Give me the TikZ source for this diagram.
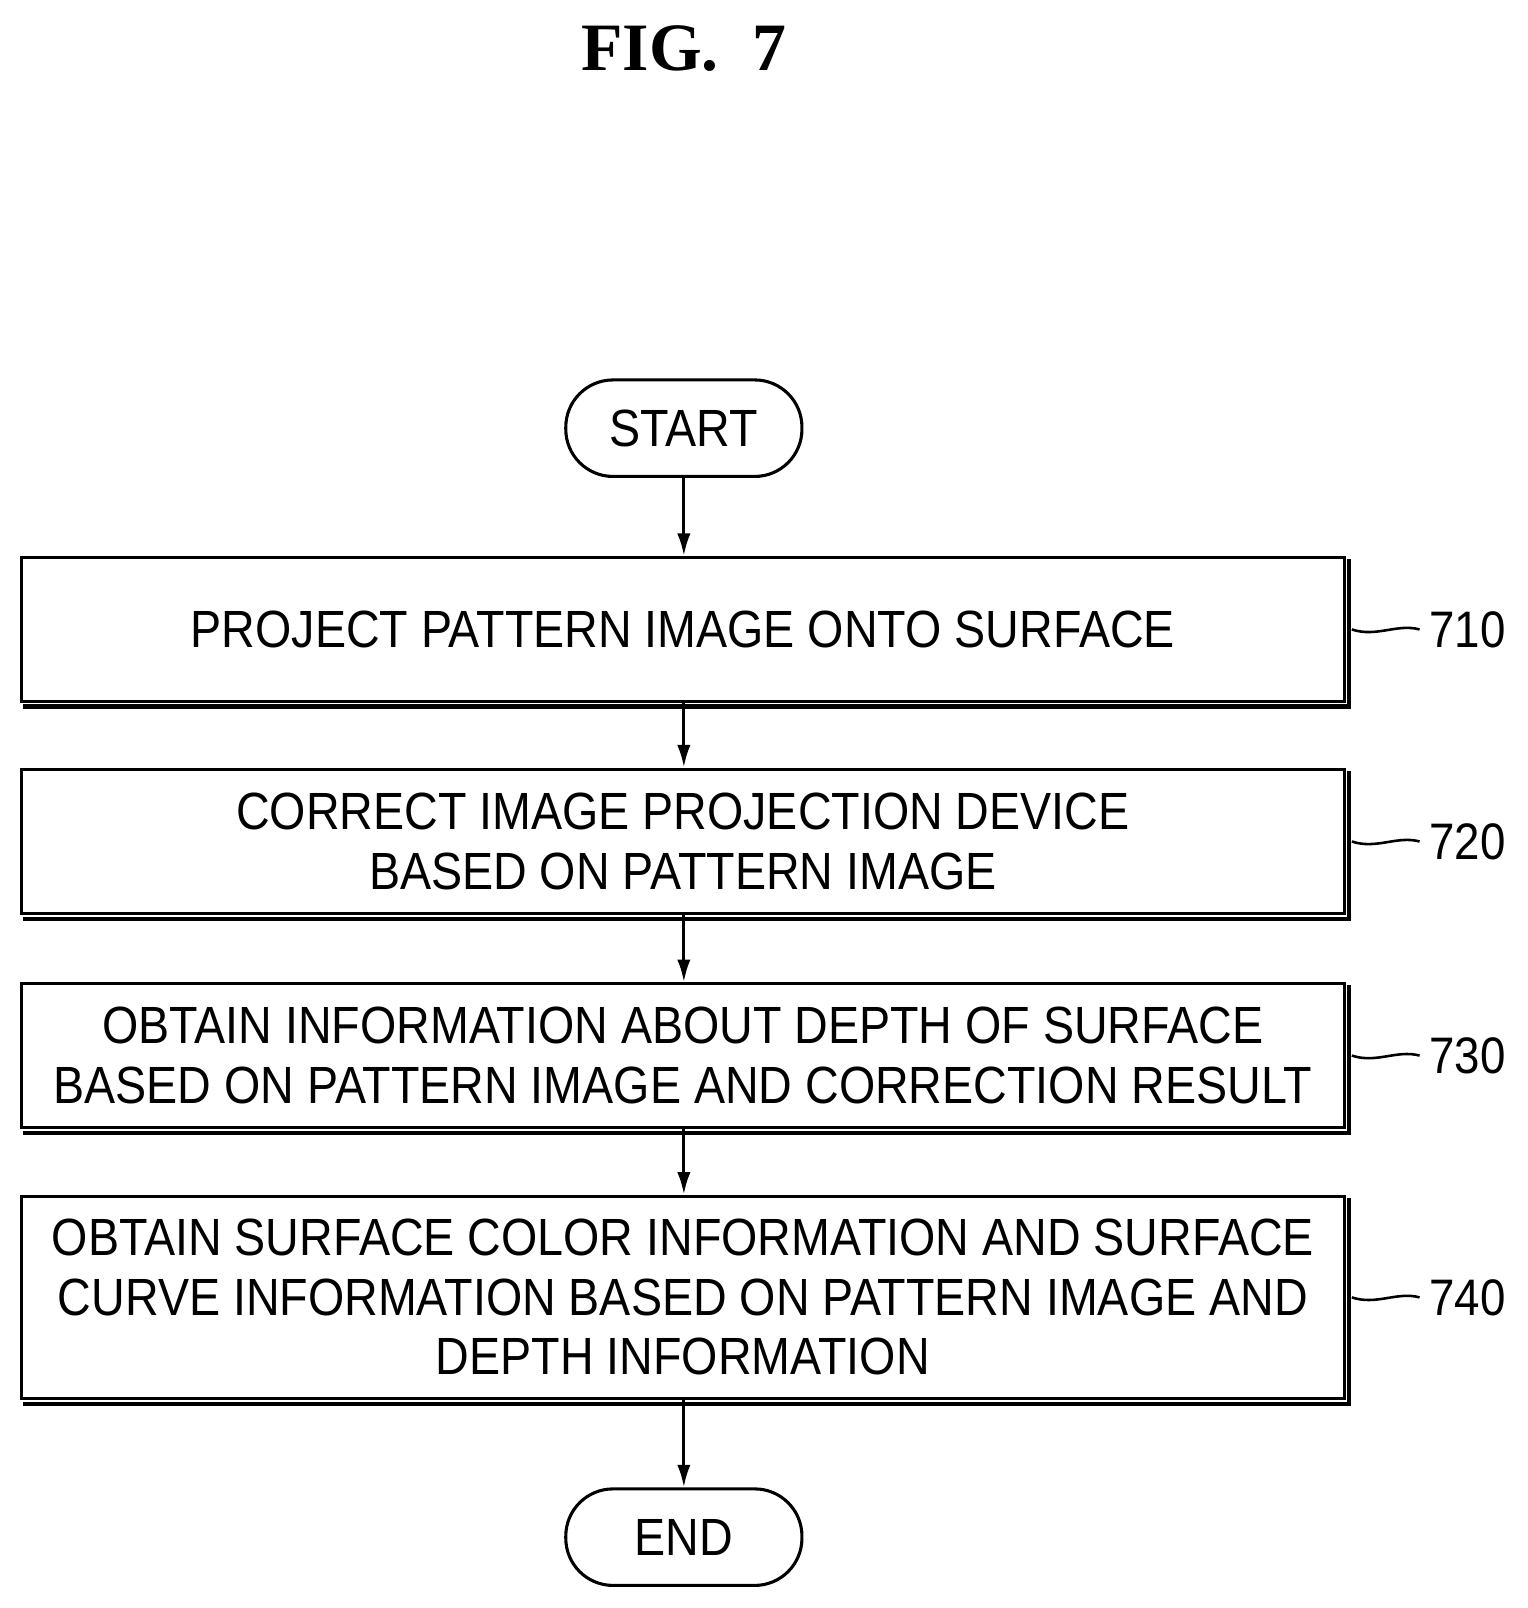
\documentclass[tikz,border=0pt]{standalone}
\usepackage{fontspec}
\setmainfont{Liberation Sans}[FakeStretch=0.89]
\newfontfamily\titlefont{Liberation Serif}
\begin{document}
\begin{tikzpicture}[x=1pt,y=-1pt,
  txt/.style={font=\fontsize{51}{58}\selectfont,align=center},
  box/.style={draw,line width=3pt,minimum width=1288pt,inner sep=0pt,txt},
  term/.style={draw,line width=3pt,rounded corners=46pt,minimum width=230pt,minimum height=94pt,txt},
  arr/.style={line width=3pt,-{Latex[length=22pt,width=13pt]}},
  lab/.style={font=\fontsize{50}{56}\selectfont,anchor=west}]
\usetikzlibrary{arrows.meta}
\useasboundingbox (0,0) rectangle (1488,1566);
\node[font=\titlefont\bfseries\fontsize{66}{68}\selectfont] (title) at (666,47) {FIG.\ \ 7};
\node[term] (start) at (666,417) {START};
\node[term] (end) at (666,1497) {END};
\def\sbox#1#2#3#4{% name, top, bottom, text
  \node[box,minimum height=#3pt-#2pt] (#1) at (665,{(#2+#3)/2}) {#4};
  \draw[line width=4pt] ([xshift=3.5pt,yshift=-3pt]#1.north east) -- ([xshift=3.5pt,yshift=-3.5pt]#1.south east) -- ([xshift=3pt,yshift=-3.5pt]#1.south west);}
\sbox{b710}{543}{683}{PROJECT PATTERN IMAGE ONTO SURFACE}
\sbox{b720}{749}{890}{CORRECT IMAGE PROJECTION DEVICE\\BASED ON PATTERN IMAGE}
\sbox{b730}{958}{1098}{OBTAIN INFORMATION ABOUT DEPTH OF SURFACE\\BASED ON PATTERN IMAGE AND CORRECTION RESULT}
\sbox{b740}{1165}{1362}{OBTAIN SURFACE COLOR INFORMATION AND SURFACE\\CURVE INFORMATION BASED ON PATTERN IMAGE AND\\DEPTH INFORMATION}
\draw[arr] (start) -- (start|-b710.north);
\draw[arr] (b710.south-|start) -- (start|-b720.north);
\draw[arr] (b720.south-|start) -- (start|-b730.north);
\draw[arr] (b730.south-|start) -- (start|-b740.north);
\draw[arr] (b740.south-|start) -- (end);
\foreach \n/\t in {b710/710,b720/720,b730/730,b740/740}{
  \node[lab] (l\t) at ([xshift=78pt]\n.east) {\t};
  \draw[line width=2.5pt] ([xshift=6pt]\n.east) .. controls ([xshift=30pt,yshift=-8pt]\n.east) and ([xshift=50pt,yshift=6pt]\n.east) .. ([xshift=-6pt]l\t.west);
}
\end{tikzpicture}
\end{document}
